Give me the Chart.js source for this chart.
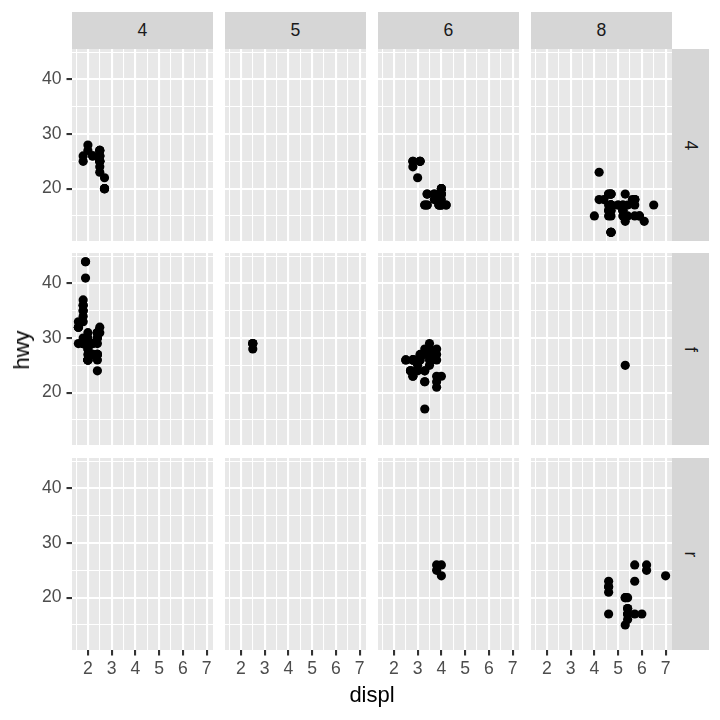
<!DOCTYPE html>
<html>
<head>
<meta charset="utf-8">
<title>hwy vs displ, faceted by drv and cyl</title>
<script src="https://cdn.jsdelivr.net/npm/chart.js@4/dist/chart.umd.min.js"></script>
<style>
	body { margin: 0; background: #fff; font-family: "Liberation Sans", Arial, sans-serif; }
	#plot { position: relative; width: 720px; height: 720px; overflow: hidden; }
	.panel { position: absolute; }
	.strip { position: absolute; background: #D6D6D6; color: #1A1A1A; font-size: 17.6px;
		display: flex; align-items: center; justify-content: center; }
	.strip span.rot { display: inline-block; transform: rotate(90deg); }
	.title { position: absolute; font-size: 22px; line-height: 22px; color: #000; white-space: nowrap; }
</style>
</head>
<body>
<div id="plot"></div>
<script>
// facets
const cylinders = [4, 5, 6, 8];
const drives = ['4', 'f', 'r'];

// tick labels
const xTicks = [2, 3, 4, 5, 6, 7];
const yTicks = [20, 30, 40];

// mpg data: one entry per car
const displ = [
	1.8, 1.8, 2.0, 2.0, 2.8, 2.8, 3.1, 1.8, 1.8, 2.0, 2.0, 2.8, 2.8, 3.1, 3.1, 2.8, 3.1, 4.2, 5.3, 5.3,
	5.3, 5.7, 6.0, 5.7, 5.7, 6.2, 6.2, 7.0, 5.3, 5.3, 5.7, 6.5, 2.4, 2.4, 3.1, 3.5, 3.6, 2.4, 3.0, 3.3,
	3.3, 3.3, 3.3, 3.3, 3.8, 3.8, 3.8, 4.0, 3.7, 3.7, 3.9, 3.9, 4.7, 4.7, 4.7, 5.2, 5.2, 3.9, 4.7, 4.7,
	4.7, 5.2, 5.2, 5.9, 5.7, 4.7, 4.7, 4.7, 4.7, 4.7, 5.2, 5.2, 5.7, 5.9, 4.6, 5.4, 5.4, 4.0, 4.0, 4.0,
	4.0, 4.6, 5.0, 4.2, 4.2, 4.6, 4.6, 4.6, 5.4, 5.4, 3.8, 3.8, 4.0, 4.0, 4.6, 4.6, 4.6, 4.6, 5.4, 1.6,
	1.6, 1.6, 1.6, 1.6, 1.8, 1.8, 1.8, 2.0, 2.4, 2.4, 2.4, 2.4, 2.5, 2.5, 3.3, 2.0, 2.0, 2.0, 2.0, 2.7,
	2.7, 2.7, 3.0, 3.7, 4.0, 4.7, 4.7, 4.7, 5.7, 6.1, 4.0, 4.2, 4.4, 4.6, 5.4, 5.4, 5.4, 4.0, 4.0, 4.6,
	5.0, 2.4, 2.4, 2.5, 2.5, 3.5, 3.5, 3.0, 3.0, 3.5, 3.3, 3.3, 4.0, 5.6, 3.1, 3.8, 3.8, 3.8, 5.3, 2.5,
	2.5, 2.5, 2.5, 2.5, 2.5, 2.2, 2.2, 2.5, 2.5, 2.5, 2.5, 2.5, 2.5, 2.7, 2.7, 3.4, 3.4, 4.0, 4.7, 2.2,
	2.2, 2.4, 2.4, 3.0, 3.0, 3.5, 2.2, 2.2, 2.4, 2.4, 3.0, 3.0, 3.3, 1.8, 1.8, 1.8, 1.8, 1.8, 4.7, 5.7,
	2.7, 2.7, 2.7, 3.4, 3.4, 4.0, 4.0, 2.0, 2.0, 2.0, 2.0, 2.8, 1.9, 2.0, 2.0, 2.0, 2.0, 2.5, 2.5, 2.8,
	1.9, 1.9, 2.0, 2.0, 2.5, 2.5, 1.8, 1.8, 2.0, 2.0, 2.8, 2.8, 3.6
];
const hwy = [
	29, 29, 31, 30, 26, 26, 27, 26, 25, 28, 27, 25, 25, 25, 25, 24, 25, 23, 20, 15,
	20, 17, 17, 26, 23, 26, 25, 24, 19, 14, 15, 17, 27, 30, 26, 29, 26, 24, 24, 22,
	22, 24, 24, 17, 22, 21, 23, 23, 19, 18, 17, 17, 19, 19, 12, 17, 17, 17, 17, 12,
	17, 16, 16, 15, 18, 16, 12, 17, 17, 16, 15, 16, 17, 15, 17, 17, 18, 17, 19, 17,
	19, 19, 17, 17, 17, 16, 16, 17, 15, 17, 26, 25, 26, 24, 21, 22, 23, 22, 20, 33,
	32, 32, 29, 32, 34, 36, 36, 29, 26, 27, 30, 31, 26, 26, 28, 26, 29, 28, 27, 24,
	24, 24, 22, 19, 20, 17, 12, 19, 18, 14, 15, 18, 18, 15, 17, 16, 18, 17, 19, 19,
	17, 29, 27, 31, 32, 27, 26, 26, 25, 25, 17, 17, 20, 18, 26, 26, 27, 28, 25, 25,
	24, 27, 25, 26, 23, 26, 26, 26, 26, 27, 25, 27, 25, 20, 20, 19, 17, 20, 17, 29,
	27, 31, 31, 26, 26, 28, 27, 29, 31, 31, 26, 26, 27, 30, 33, 35, 37, 35, 15, 18,
	20, 20, 22, 17, 19, 18, 20, 29, 26, 29, 29, 23, 44, 29, 26, 29, 29, 29, 29, 23,
	44, 41, 29, 26, 28, 29, 29, 29, 28, 26, 26, 26, 26
];
const cyl = [
	4, 4, 4, 4, 6, 6, 6, 4, 4, 4, 4, 6, 6, 6, 6, 6, 6, 8, 8, 8,
	8, 8, 8, 8, 8, 8, 8, 8, 8, 8, 8, 8, 4, 4, 6, 6, 6, 4, 6, 6,
	6, 6, 6, 6, 6, 6, 6, 6, 6, 6, 6, 6, 8, 8, 8, 8, 8, 6, 8, 8,
	8, 8, 8, 8, 8, 8, 8, 8, 8, 8, 8, 8, 8, 8, 8, 8, 8, 6, 6, 6,
	6, 8, 8, 6, 6, 8, 8, 8, 8, 8, 6, 6, 6, 6, 8, 8, 8, 8, 8, 4,
	4, 4, 4, 4, 4, 4, 4, 4, 4, 4, 4, 4, 6, 6, 6, 4, 4, 4, 4, 6,
	6, 6, 6, 6, 6, 8, 8, 8, 8, 8, 8, 8, 8, 8, 8, 8, 8, 6, 6, 8,
	8, 4, 4, 4, 4, 6, 6, 6, 6, 6, 6, 6, 6, 8, 6, 6, 6, 6, 8, 4,
	4, 4, 4, 4, 4, 4, 4, 4, 4, 4, 4, 4, 4, 4, 4, 6, 6, 6, 8, 4,
	4, 4, 4, 6, 6, 6, 4, 4, 4, 4, 6, 6, 6, 4, 4, 4, 4, 4, 8, 8,
	4, 4, 4, 6, 6, 6, 6, 4, 4, 4, 4, 6, 4, 4, 4, 4, 4, 5, 5, 6,
	4, 4, 4, 4, 5, 5, 4, 4, 4, 4, 6, 6, 6
];
const drv = [
	'f', 'f', 'f', 'f', 'f', 'f', 'f', '4', '4', '4', '4', '4', '4', '4', '4', '4', '4', '4', 'r', 'r',
	'r', 'r', 'r', 'r', 'r', 'r', 'r', 'r', '4', '4', '4', '4', 'f', 'f', 'f', 'f', 'f', 'f', 'f', 'f',
	'f', 'f', 'f', 'f', 'f', 'f', 'f', 'f', '4', '4', '4', '4', '4', '4', '4', '4', '4', '4', '4', '4',
	'4', '4', '4', '4', '4', '4', '4', '4', '4', '4', '4', '4', '4', '4', 'r', 'r', 'r', '4', '4', '4',
	'4', '4', '4', '4', '4', '4', '4', '4', '4', '4', 'r', 'r', 'r', 'r', 'r', 'r', 'r', 'r', 'r', 'f',
	'f', 'f', 'f', 'f', 'f', 'f', 'f', 'f', 'f', 'f', 'f', 'f', 'f', 'f', 'f', 'f', 'f', 'f', 'f', 'f',
	'f', 'f', '4', '4', '4', '4', '4', '4', '4', '4', '4', '4', '4', '4', 'r', 'r', 'r', '4', '4', '4',
	'4', 'f', 'f', 'f', 'f', 'f', 'f', 'f', 'f', 'f', '4', '4', '4', '4', 'f', 'f', 'f', 'f', 'f', '4',
	'4', '4', '4', '4', '4', '4', '4', '4', '4', '4', '4', '4', '4', '4', '4', '4', '4', '4', '4', 'f',
	'f', 'f', 'f', 'f', 'f', 'f', 'f', 'f', 'f', 'f', 'f', 'f', 'f', 'f', 'f', 'f', 'f', 'f', '4', '4',
	'4', '4', '4', '4', '4', '4', '4', 'f', 'f', 'f', 'f', 'f', 'f', 'f', 'f', 'f', 'f', 'f', 'f', 'f',
	'f', 'f', 'f', 'f', 'f', 'f', 'f', 'f', 'f', 'f', 'f', 'f', 'f'
];

// layout of the panel grid (pixels)
const PANEL_W = 141;
const PANEL_H = 192;
const COL_LEFT = [72, 225, 378, 531];
const ROW_TOP = [49, 253, 458];
const STRIP = 37;
const PAD_L = 50;
const PAD_B = 40;

const TICK_FONT = { family: '"Liberation Sans", Arial, sans-serif', size: 17.6 };
const TICK_COLOR = '#4D4D4D';

// ggplot style 5% expansion of the data range
function expanded(values)
{
	const lo = Math.min(...values);
	const hi = Math.max(...values);
	const pad = (hi - lo) * 0.05;
	return [lo - pad, hi + pad];
}
const [xMin, xMax] = expanded(displ);
const [yMin, yMax] = expanded(hwy);

// major breaks plus the minor ones halfway between
function withMinor(majors)
{
	const step = majors[1] - majors[0];
	const all = [majors[0] - step / 2];
	majors.forEach(v => { all.push(v); all.push(v + step / 2); });
	return all;
}
const xGrid = withMinor(xTicks).filter(v => v > xMin && v < xMax);
const yGrid = withMinor(yTicks).filter(v => v > yMin && v < yMax);

const panelBackground = {
	id: 'panelBackground',
	beforeDraw(chart) {
		const { ctx, chartArea: a } = chart;
		ctx.save();
		ctx.fillStyle = '#E8E8E8';
		ctx.fillRect(a.left, a.top, a.width, a.height);
		ctx.restore();
	}
};

function axis(grid, majors, showLabels, size, horizontal)
{
	return {
		type: 'linear',
		display: true,
		afterBuildTicks: s => { s.ticks = grid.map(v => ({ value: v })); },
		afterFit: s => {
			if (horizontal) s.height = size;
			else s.width = size;
			// keep the label overhang from shrinking the panel
			s.paddingTop = s.paddingBottom = s.paddingLeft = s.paddingRight = 0;
		},
		border: { display: false },
		grid: {
			color: '#FFFFFF',
			lineWidth: c => majors.includes(c.tick.value) ? 2.1 : 1.05,
			drawTicks: showLabels,
			tickLength: 5.5,
			tickWidth: 2.1,
			tickColor: c => majors.includes(c.tick.value) ? '#333333' : 'rgba(0,0,0,0)'
		},
		ticks: {
			display: showLabels,
			autoSkip: false,
			maxRotation: 0,
			padding: horizontal ? 3 : 5,
			color: TICK_COLOR,
			font: TICK_FONT,
			callback: v => majors.includes(v) ? String(v) : ''
		}
	};
}

const plot = document.getElementById('plot');

function makePanel(r, c)
{
	const isLeft = c === 0;
	const isBottom = r === drives.length - 1;
	const padL = isLeft ? PAD_L : 0;
	const padB = isBottom ? PAD_B : 0;

	const holder = document.createElement('div');
	holder.className = 'panel';
	holder.style.left = (COL_LEFT[c] - padL) + 'px';
	holder.style.top = ROW_TOP[r] + 'px';
	const canvas = document.createElement('canvas');
	canvas.width = PANEL_W + padL;
	canvas.height = PANEL_H + padB;
	holder.appendChild(canvas);
	plot.appendChild(holder);

	const points = [];
	for (let i = 0; i < displ.length; i++)
	{
		if (cyl[i] === cylinders[c] && drv[i] === drives[r])
			points.push({ x: displ[i], y: hwy[i] });
	}

	new Chart(canvas, {
		type: 'scatter',
		data: {
			datasets: [{
				data: points,
				pointRadius: 4.6,
				pointHoverRadius: 4.6,
				pointBorderWidth: 0,
				pointBackgroundColor: '#000000'
			}]
		},
		options: {
			responsive: false,
			animation: false,
			devicePixelRatio: 1,
			layout: { padding: 0, autoPadding: false },
			events: [],
			scales: {
				x: Object.assign(axis(xGrid, xTicks, isBottom, padB, true), { min: xMin, max: xMax }),
				y: Object.assign(axis(yGrid, yTicks, isLeft, padL, false), { min: yMin, max: yMax })
			},
			plugins: {
				legend: { display: false },
				tooltip: { enabled: false }
			}
		},
		plugins: [panelBackground]
	});
}

function addStrip(left, top, width, height, text, rotated)
{
	const s = document.createElement('div');
	s.className = 'strip';
	s.style.left = left + 'px';
	s.style.top = top + 'px';
	s.style.width = width + 'px';
	s.style.height = height + 'px';
	const span = document.createElement('span');
	if (rotated) span.className = 'rot';
	span.textContent = text;
	s.appendChild(span);
	plot.appendChild(s);
}

for (let r = 0; r < drives.length; r++)
	for (let c = 0; c < cylinders.length; c++)
		makePanel(r, c);

cylinders.forEach((v, c) => addStrip(COL_LEFT[c], ROW_TOP[0] - STRIP, PANEL_W, STRIP, String(v), false));
drives.forEach((v, r) => addStrip(COL_LEFT[3] + PANEL_W, ROW_TOP[r], STRIP, PANEL_H, v, true));

// axis titles
const xTitle = document.createElement('div');
xTitle.className = 'title';
xTitle.textContent = 'displ';
xTitle.style.top = '684px';
xTitle.style.left = '372px';
xTitle.style.transform = 'translateX(-50%)';
plot.appendChild(xTitle);

const yTitle = document.createElement('div');
yTitle.className = 'title';
yTitle.textContent = 'hwy';
yTitle.style.left = '22px';
yTitle.style.top = '350px';
yTitle.style.transform = 'translate(-50%, -50%) rotate(-90deg)';
plot.appendChild(yTitle);
</script>
</body>
</html>
